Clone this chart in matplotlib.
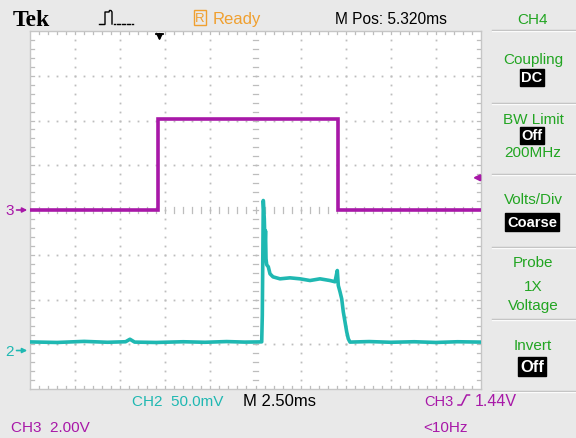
import matplotlib
matplotlib.use("Agg")
import matplotlib.pyplot as plt
from matplotlib.lines import Line2D

# ---------------- data ----------------
# CH3 (magenta), 2.00 V/div, ground marker at centre line
ch3_time_ms = [-12.5, -5.42, -5.42, 4.59, 4.59, 12.5]
ch3_volts = [0.0, 0.0, 4.06, 4.06, 0.0, 0.0]
ch3_volts_per_div = 2.0
ch3_offset_div = 0.0

# CH2 (cyan), 50.0 mV/div, ground marker 3.14 div below centre
ch2_time_ms = [-12.5, -11.0, -9.5, -8.2, -7.2, -6.96, -6.7, -5.5, -4.0, -2.8, -1.6,
               -0.6, 0.2, 0.344, 0.377, 0.432, 0.488, 0.527, 0.554, 0.582, 0.621,
               0.71, 0.804, 0.97, 1.358, 1.912, 2.467, 3.021, 3.575, 4.129, 4.407,
               4.534, 4.59, 4.684, 4.778, 4.867, 4.961, 5.055, 5.144, 5.238, 6.3,
               7.5, 8.8, 10.0, 11.2, 12.5]
ch2_mv = [9.6, 9.0, 10.2, 9.2, 9.8, 12.6, 9.4, 9.0, 9.8, 9.2, 10.0,
          9.4, 9.6, 9.7, 39.1, 167.6, 147.1, 117.0, 133.7, 102.5, 95.8,
          93.5, 85.7, 82.3, 80.1, 81.2, 80.1, 78.2, 80.1, 78.2, 76.8,
          89.4, 72.6, 65.6, 57.8, 43.2, 32.1, 20.9, 13.1, 9.4, 10.0,
          9.2, 9.8, 9.0, 9.8, 9.4]
ch2_mv_per_div = 50.0
ch2_offset_div = -3.14

trigger_pos_ms = -5.32
trigger_level_v = 1.44

top_texts = ["Tek", "Ready", "M Pos: 5.320ms", "CH4"]
menu_titles = ["Coupling", "BW Limit", "Volts/Div", "Probe", "Invert"]
bottom_texts = ["CH2  50.0mV", "M 2.50ms", "CH3", "1.44V", "CH3  2.00V", "<10Hz"]

# ---------------- style ----------------
MAG = "#a818a8"
CYN = "#1fb8b2"
GRN = "#22a522"
ORG = "#f0a030"
GRID = "#bdbdbd"
BG = "#e9e9e9"
SANS = ["Liberation Sans", "DejaVu Sans"]

W, H = 576, 439
fig = plt.figure(figsize=(W / 100, H / 100), dpi=100, facecolor=BG)


def fx(x):
    return x / W


def fy(y):
    return 1 - y / H


def ftext(x, y, s, color, size=11, ha="left", **kw):
    kw.setdefault("family", SANS)
    fig.text(fx(x), fy(y), s, color=color, fontsize=size, ha=ha, va="baseline", **kw)


L, R, T, B = 30, 481, 32, 390
ax = fig.add_axes([fx(L), fy(B), fx(R) - fx(L), fy(T) - fy(B)])
ax.set_facecolor("white")
ax.set_xlim(-12.5, 12.5)
ax.set_ylim(-4, 4)
ax.set_xticks([])
ax.set_yticks([])
for s in ax.spines.values():
    s.set_color("#c6c6c6")
    s.set_linewidth(1.0)

# graticule dots on major lines
for k in range(-4, 5):
    if k == 0:
        continue
    xs = k * 2.5
    ys = [-4 + 0.2 * j for j in range(1, 40)]
    ax.plot([xs] * len(ys), ys, ls="none", marker="s", ms=1.3, mec="none", mfc=GRID, zorder=1)
for j in range(-3, 4):
    if j == 0:
        continue
    xs = [-12.5 + 0.5 * i for i in range(1, 50)]
    ax.plot(xs, [j] * len(xs), ls="none", marker="s", ms=1.3, mec="none", mfc=GRID, zorder=1)

# centre lines with crossing ticks
for j in range(1, 40):
    y = -4 + 0.2 * j
    ax.plot([-0.15, 0.15], [y, y], color=GRID, lw=0.9, zorder=1)
for i in range(1, 50):
    x = -12.5 + 0.5 * i
    ax.plot([x, x], [-0.07, 0.07], color=GRID, lw=0.9, zorder=1)
# edge ticks
for i in range(1, 50):
    x = -12.5 + 0.5 * i
    ax.plot([x, x], [4, 3.93], color=GRID, lw=0.9, zorder=1)
    ax.plot([x, x], [-4, -3.93], color=GRID, lw=0.9, zorder=1)
for j in range(1, 40):
    y = -4 + 0.2 * j
    ax.plot([-12.5, -12.3], [y, y], color=GRID, lw=0.9, zorder=1)
    ax.plot([12.5, 12.3], [y, y], color=GRID, lw=0.9, zorder=1)

# traces
ch3_div = [v / ch3_volts_per_div + ch3_offset_div for v in ch3_volts]
ax.plot(ch3_time_ms, ch3_div, color=MAG, lw=2.6, solid_joinstyle="miter", zorder=3)
ch2_div = [v / ch2_mv_per_div + ch2_offset_div for v in ch2_mv]
ax.plot(ch2_time_ms, ch2_div, color=CYN, lw=2.6, zorder=4)

# trigger position marker (top)
ax.annotate("", xy=(trigger_pos_ms, 3.72), xytext=(trigger_pos_ms, 4.0),
            arrowprops=dict(arrowstyle="-|>", color="black", lw=1.3, mutation_scale=8),
            annotation_clip=False, zorder=6)
ax.plot([trigger_pos_ms - 0.2, trigger_pos_ms + 0.2], [3.93, 3.93], color="black", lw=1.3,
        clip_on=False, zorder=6)
# trigger level marker (right)
tl = trigger_level_v / ch3_volts_per_div + ch3_offset_div
ax.annotate("", xy=(11.9, tl), xytext=(12.5, tl),
            arrowprops=dict(arrowstyle="-|>", color=MAG, lw=1.5, mutation_scale=9),
            annotation_clip=False, zorder=6)

# channel ground markers (left)
for off, col, lab in [(ch3_offset_div, MAG, "3"), (ch2_offset_div, CYN, "2")]:
    ax.annotate("", xy=(-12.5, off), xytext=(-13.4, off),
                arrowprops=dict(arrowstyle="-|>", color=col, lw=1.2, mutation_scale=7),
                annotation_clip=False)
    ax.text(-13.4, off, lab, color=col, fontsize=11, ha="right", va="center",
            family=SANS, clip_on=False)

# ---------------- top bar ----------------
fig.text(fx(13), fy(26.5), top_texts[0], family=["Liberation Serif", "DejaVu Serif"],
         weight="bold", fontsize=17, color="black", ha="left", va="baseline")
# acquisition icon
fig.add_artist(Line2D([fx(105), fx(105), fx(109), fx(109.5), fx(111), fx(112), fx(112)],
                      [fy(25), fy(13), fy(13), fy(11.5), fy(11.5), fy(13), fy(25)],
                      color="black", lw=1.0))
for xd in [99, 101, 103, 114, 116.5, 119, 121.5, 124, 126.5, 129, 131.5]:
    fig.add_artist(Line2D([fx(xd), fx(xd + 1)], [fy(25), fy(25)], color="black", lw=1.0))
fig.text(fx(200), fy(18.5), "R", color=ORG, fontsize=9.5, ha="center", va="center",
         family=SANS, bbox=dict(boxstyle="square,pad=0.12", fc="none", ec=ORG, lw=1.0))
ftext(213, 24, top_texts[1], ORG, size=12)
ftext(335, 24, top_texts[2], "black", size=11.2)
ftext(533, 24, top_texts[3], GRN, ha="center")

# ---------------- right menu ----------------
for ys in [31, 104, 175, 248, 320, 392]:
    fig.add_artist(Line2D([fx(492), fx(576)], [fy(ys), fy(ys)], color="#b9b9b9", lw=1.0))
    fig.add_artist(Line2D([fx(492), fx(576)], [fy(ys + 1), fy(ys + 1)], color="#fbfbfb", lw=1.0))


def boxed(y, s, size=10.5):
    fig.text(fx(532), fy(y), s, color="white", fontsize=size, ha="center", va="center",
             family=SANS, weight="bold",
             bbox=dict(boxstyle="square,pad=0.12", fc="black", ec="black"))


ftext(533, 64, menu_titles[0], GRN, ha="center")
boxed(78.5, "DC")
ftext(533, 124, menu_titles[1], GRN, ha="center")
boxed(136.5, "Off")
ftext(533, 157, "200MHz", GRN, ha="center")
ftext(533, 204, menu_titles[2], GRN, ha="center")
boxed(223, "Coarse")
ftext(533, 267, menu_titles[3], GRN, ha="center")
ftext(533, 291, "1X", GRN, ha="center")
ftext(533, 310, "Voltage", GRN, ha="center")
ftext(533, 350, menu_titles[4], GRN, ha="center")
boxed(367, "Off", size=12)

# ---------------- bottom bar ----------------
ftext(132, 406, bottom_texts[0], CYN)
ftext(243, 406, bottom_texts[1], "black", size=12)
ftext(424, 406, bottom_texts[2], MAG, size=10.5)
fig.add_artist(Line2D([fx(458), fx(461.5), fx(466.5), fx(469.5)],
                      [fy(406), fy(406), fy(396), fy(396)], color=MAG, lw=1.1))
ftext(475, 406, bottom_texts[3], MAG, size=11.5)
ftext(11, 432, bottom_texts[4], MAG)
ftext(423, 432, bottom_texts[5], MAG)

fig.savefig("out.png", dpi=100, facecolor=BG)
